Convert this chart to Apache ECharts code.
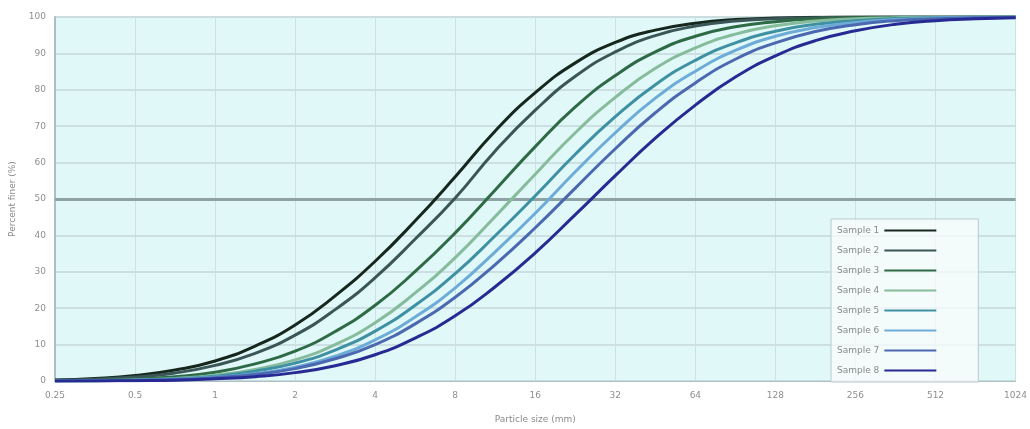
<!DOCTYPE html>
<html>
<head>
<meta charset="utf-8">
<script src="https://cdn.jsdelivr.net/npm/echarts@6/dist/echarts.min.js"></script>
<style>
  html, body { margin: 0; padding: 0; background: #ffffff; }
  #chart { width: 1030px; height: 429px; }
</style>
</head>
<body>
<div id="chart"></div>
<script>
// Particle sizes (x, log scale) shared by every curve
const sizes = [0.25, 0.354, 0.5, 0.707, 1, 1.414, 2, 2.828, 4, 5.657, 8, 11.31, 16, 22.63, 32, 45.25, 64, 90.51, 128, 181, 256, 362, 512, 724, 1024];

// Cumulative percent passing for each sample
const sample1 = [0.3, 0.7, 1.5, 3.0, 5.5, 9.6, 15.4, 23.4, 32.9, 44.0, 56.1, 68.7, 79.2, 87.4, 93.0, 96.4, 98.3, 99.3, 99.7, 99.9, 100, 100, 100, 100, 100];
const sample2 = [0.2, 0.5, 1.1, 2.2, 4.3, 7.6, 12.6, 19.6, 28.4, 39.0, 50.3, 63.2, 74.4, 83.7, 90.4, 94.9, 97.5, 98.9, 99.5, 99.8, 100, 100, 100, 100, 100];
const sample3 = [0.1, 0.2, 0.5, 1.2, 2.4, 4.7, 8.2, 13.6, 20.8, 30.1, 40.7, 52.5, 64.4, 75.3, 83.9, 90.4, 94.7, 97.3, 98.7, 99.5, 99.8, 100, 100, 100, 100];
const sample4 = [0.1, 0.1, 0.3, 0.7, 1.6, 3.2, 5.8, 10.0, 16.0, 24.2, 33.9, 45.2, 56.8, 68.2, 77.9, 85.9, 91.5, 95.3, 97.6, 98.9, 99.5, 99.8, 100, 100, 100];
const sample5 = [0.0, 0.1, 0.3, 0.6, 1.3, 2.7, 4.9, 8.5, 13.7, 20.8, 29.5, 39.9, 50.9, 62.3, 72.6, 81.4, 88.1, 92.9, 96.1, 98.0, 99.0, 99.6, 99.8, 100, 100];
const sample6 = [0.0, 0.1, 0.2, 0.5, 1.0, 2.0, 3.8, 6.8, 11.3, 17.6, 25.6, 35.5, 46.1, 57.5, 68.2, 77.7, 85.1, 90.8, 94.7, 97.1, 98.5, 99.3, 99.7, 99.9, 100];
const sample7 = [0.0, 0.1, 0.2, 0.4, 0.9, 1.8, 3.4, 6.1, 10.0, 15.7, 23.0, 32.0, 42.1, 53.0, 63.8, 73.7, 81.9, 88.4, 92.9, 96.0, 97.9, 99.0, 99.5, 99.8, 99.9];
const sample8 = [0.0, 0.0, 0.1, 0.2, 0.6, 1.2, 2.3, 4.2, 7.2, 11.8, 17.9, 25.9, 35.2, 45.7, 56.4, 66.7, 75.8, 83.5, 89.3, 93.5, 96.2, 98.0, 99.0, 99.5, 99.8];

const seriesNames = ['Sample 1', 'Sample 2', 'Sample 3', 'Sample 4', 'Sample 5', 'Sample 6', 'Sample 7', 'Sample 8'];
const seriesValues = [sample1, sample2, sample3, sample4, sample5, sample6, sample7, sample8];
const seriesColors = ['#16281e', '#3b5656', '#2f6a46', '#86bc9c', '#3f90a2', '#6eacd8', '#4b68b0', '#262a92'];

// Percent ticks on the y axis
const yTicks = [0, 10, 20, 30, 40, 50, 60, 70, 80, 90, 100];

const chart = echarts.init(document.getElementById('chart'), null, { renderer: 'canvas' });

const series = seriesNames.map((name, i) => ({
  name: name,
  type: 'line',
  smooth: true,
  showSymbol: false,
  data: sizes.map((s, j) => [s, seriesValues[i][j]]),
  lineStyle: { width: 3, color: seriesColors[i] },
  itemStyle: { color: seriesColors[i] },
  z: 3
}));

// Heavy reference line at 50 % passing
series[0].markLine = {
  silent: true,
  symbol: 'none',
  label: { show: false },
  lineStyle: { color: '#8fa3a6', width: 3, type: 'solid' },
  data: [{ yAxis: 50 }],
  z: 2
};

chart.setOption({
  animation: false,
  backgroundColor: '#ffffff',
  grid: {
    left: 52, right: 3, top: 17, bottom: 44,
    show: true,
    backgroundColor: '#e0f8f8',
    borderColor: '#c2d4d8',
    borderWidth: 1
  },
  legend: {
    orient: 'vertical',
    left: 831,
    top: 219,
    align: 'right',
    itemWidth: 52,
    itemHeight: 10,
    itemGap: 11,
    padding: [7, 42, 7, 6],
    backgroundColor: 'rgba(250,252,252,0.75)',
    borderColor: '#b9cbce',
    borderWidth: 1,
    icon: 'path://M0,4 L52,4 L52,6 L0,6 Z',
    textStyle: { fontSize: 9, color: '#8a8a8a', fontFamily: 'DejaVu Sans' },
    data: seriesNames
  },
  xAxis: {
    type: 'log',
    logBase: 2,
    min: 0.25,
    max: 1024,
    interval: 1,
    splitNumber: 12,
    name: 'Particle size (mm)',
    nameLocation: 'middle',
    nameGap: 34,
    nameTextStyle: { fontSize: 9, color: '#8a8a8a', fontFamily: 'DejaVu Sans' },
    axisLine: { show: true, lineStyle: { color: '#aebfc2', width: 1 } },
    axisTick: { show: false },
    axisLabel: {
      fontSize: 9, color: '#8f8f8f', margin: 10, fontFamily: 'DejaVu Sans',
      formatter: v => String(+v.toPrecision(4))
    },
    splitLine: { show: true, lineStyle: { color: '#cfe0e3', width: 1 } }
  },
  yAxis: {
    type: 'value',
    min: yTicks[0],
    max: yTicks[yTicks.length - 1],
    interval: 10,
    name: 'Percent finer (%)',
    nameLocation: 'middle',
    nameGap: 38,
    nameTextStyle: { fontSize: 9, color: '#8a8a8a', fontFamily: 'DejaVu Sans' },
    axisLine: { show: true, lineStyle: { color: '#aebfc2', width: 2 } },
    axisTick: { show: false },
    axisLabel: { fontSize: 9, color: '#8f8f8f', margin: 9, fontFamily: 'DejaVu Sans' },
    splitLine: { show: true, lineStyle: { color: '#c6d8dc', width: 1.5 } }
  },
  series: series
});
</script>
</body>
</html>
